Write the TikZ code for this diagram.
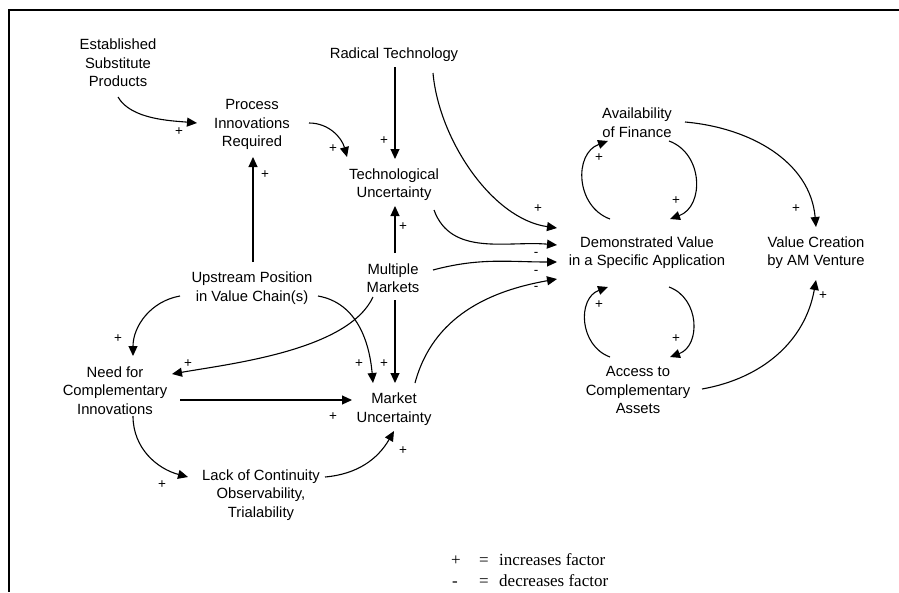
\documentclass[tikz,border=0pt]{standalone}
\usepackage{fontspec}
\setmainfont{Liberation Serif}
\setsansfont{Liberation Sans}
\usetikzlibrary{arrows.meta,calc}

\begin{document}
\begin{tikzpicture}[x=1pt,y=-1pt,
    factor/.style={font=\sffamily\fontsize{14.8}{18.5}\selectfont, align=center, inner sep=0pt},
    sgn/.style={font=\sffamily\fontsize{13.5}{13.5}\selectfont, inner sep=0pt},
    link/.style={->, >={Triangle[length=10pt,width=9pt]}, line width=1.1pt},
    legend/.style={font=\fontsize{17}{20}\selectfont, inner sep=0pt, anchor=base west}]
    \useasboundingbox (0,0) rectangle (899,592);

    % The frame round the figure
    \draw [line width=2.4pt] (899,10) -- (9,10) -- (9,592);

    % Now the factors
    \node[factor] (est)  at (118,63)    {Established\\Substitute\\Products};
    \node[factor] (rt)   at (394,55)    {Radical Technology};
    \node[factor] (pir)  at (252,124.5) {Process\\Innovations\\Required};
    \node[factor] (tu)   at (394,184.5) {Technological\\Uncertainty};
    \node[factor] (mm)   at (393,278)   {Multiple\\Markets};
    \node[factor] (up)   at (252,288)   {Upstream Position\\in Value Chain(s)};
    \node[factor] (need) at (115,390.5) {Need for\\Complementary\\Innovations};
    \node[factor] (mu)   at (394,409)   {Market\\Uncertainty};
    \node[factor] (lack) at (261,495)   {Lack of Continuity\\Observability,\\Trialability};
    \node[factor] (fin)  at (637,122.5) {Availability\\of Finance};
    \node[factor] (dv)   at (647,252.7) {Demonstrated Value\\in a Specific Application};
    \node[factor] (vc)   at (816,252.7) {Value Creation\\by AM Venture};
    \node[factor] (acc)  at (638,390)   {Access to\\Complementary\\Assets};

    % Now the links on the left
    \draw [link] ($(est)+(0,34)$) to[out=-60,in=175,looseness=0.8] ($(pir)+(-55,-1.5)$);
    \draw [link] ($(pir)+(57,-1.5)$) to[out=0,in=105] ($(tu)+(-47,-27.5)$);
    \draw [link] ($(rt)+(1,12)$) -- ($(tu)+(1,-25.5)$);
    \draw [link] ($(up)+(1,-26)$) -- ($(pir)+(1,32.5)$);
    \draw [link] ($(mm)+(2,-25)$) -- ($(tu)+(1,21.5)$);
    \draw [link] ($(mm)+(2,22)$) -- ($(mu)+(1,-26)$);
    \draw [link] ($(mm)+(-20,19)$) to[out=-115,in=10,looseness=0.7] ($(need)+(57,-16.5)$);
    \draw [link] ($(up)+(-72,8)$) to[out=190,in=90] ($(need)+(18,-34.5)$);
    \draw [link] ($(up)+(66,8)$) to[out=-10,in=95] ($(mu)+(-21,-26)$);
    \draw [link] ($(need)+(65,9.5)$) -- ($(mu)+(-42,-9)$);
    \draw [link] ($(need)+(18,25.5)$) to[out=-90,in=165] ($(lack)+(-73,-18)$);
    \draw [link] ($(lack)+(64,-18)$) to[out=5,in=-120] ($(mu)+(0,22)$);

    % Now the links into the demonstrated value
    \draw [link] ($(rt)+(39,18)$) to[out=-85,in=172,looseness=0.85] ($(dv)+(-90,-24.7)$);
    \draw [link] ($(tu)+(40,25.5)$) to[out=-70,in=175] ($(dv)+(-90,-7.7)$);
    \draw [link] ($(mm)+(40,-8)$) to[out=15,in=180] ($(dv)+(-90,9.3)$);
    \draw [link] ($(mu)+(21,-26)$) to[out=75,in=190] ($(dv)+(-90,26.3)$);

    % Now the two loops and the value creation
    \draw [link] ($(dv)+(-37,-33.7)$) to[out=160,in=200,looseness=1.2] ($(fin)+(-29,18.5)$);
    \draw [link] ($(fin)+(32,18.5)$) to[out=-20,in=20,looseness=1.2] ($(dv)+(23,-33.7)$);
    \draw [link] ($(acc)+(-28,-33)$) to[out=160,in=200,looseness=1.2] ($(dv)+(-39,34.3)$);
    \draw [link] ($(dv)+(22,34.3)$) to[out=-20,in=20,looseness=1.2] ($(acc)+(32,-33)$);
    \draw [link] ($(fin)+(48,-0.5)$) to[out=-5,in=95] ($(vc)+(0,-25.7)$);
    \draw [link] ($(acc)+(64,-1)$) to[out=10,in=-100] ($(vc)+(0,27.3)$);

    % Now the signs on the links
    \node[sgn] (s1)  at (179,132) {+};
    \node[sgn] (s2)  at (333,149) {+};
    \node[sgn] (s3)  at (384,141) {+};
    \node[sgn] (s4)  at (538,209) {+};
    \node[sgn] (s5)  at (536,254) {-};
    \node[sgn] (s6)  at (536,272) {-};
    \node[sgn] (s7)  at (536,288) {-};
    \node[sgn] (s8)  at (403,227) {+};
    \node[sgn] (s9)  at (384,364) {+};
    \node[sgn] (s10) at (188,364) {+};
    \node[sgn] (s11) at (265,175) {+};
    \node[sgn] (s12) at (118,339) {+};
    \node[sgn] (s13) at (359,364) {+};
    \node[sgn] (s14) at (333,417) {+};
    \node[sgn] (s15) at (162,485) {+};
    \node[sgn] (s16) at (403,451) {+};
    \node[sgn] (s17) at (796,209) {+};
    \node[sgn] (s18) at (823,296) {+};
    \node[sgn] (s19) at (599,158) {+};
    \node[sgn] (s20) at (676,201) {+};
    \node[sgn] (s21) at (599,305) {+};
    \node[sgn] (s22) at (676,339) {+};

    % Now the legend
    \node[legend] (plus)  at (451,565.7) {+};
    \node[legend] (eqa)   at (479,565.7) {=};
    \node[legend] (incr)  at (499,565.7) {increases factor};
    \node[legend] (minus) at (452,586.7) {-};
    \node[legend] (eqb)   at (479,586.7) {=};
    \node[legend] (decr)  at (499,586.7) {decreases factor};

\end{tikzpicture}
\end{document}
